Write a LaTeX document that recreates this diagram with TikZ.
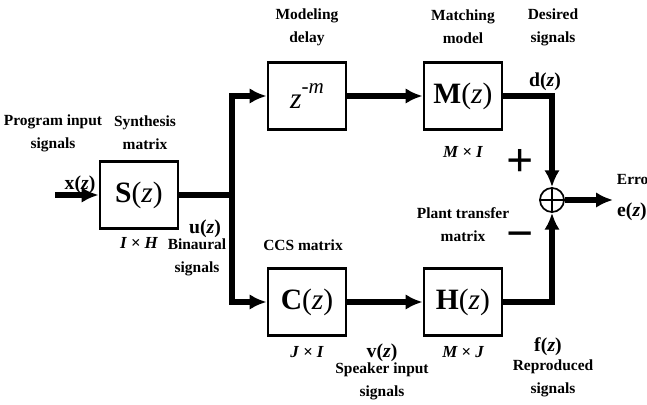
\documentclass[tikz,border=0pt]{standalone}
\usepackage{fontspec}
\setmainfont{Liberation Serif}
\usetikzlibrary{arrows.meta}

\newcommand{\sigz}[1]{\textbf{#1}(\textit{z})}

\begin{document}
\begin{tikzpicture}[x=0.025cm, y=-0.025cm, >={Latex[length=12pt,width=11pt]},
    block/.style={draw, line width=2pt, minimum width=1.95cm, minimum height=1.68cm, font=\fontsize{21}{23}\selectfont},
    sum/.style={circle, draw, line width=1.2pt, minimum size=0.6cm, inner sep=0pt},
    bus/.style={line width=4.3pt},
    lbl/.style={align=center, font=\bfseries\fontsize{11}{16.5}\selectfont},
    sgn/.style={font=\bfseries\fontsize{14}{16}\selectfont},
    dims/.style={font=\bfseries\itshape\fontsize{12}{14}\selectfont}]
    \useasboundingbox (0,0) rectangle (647,405);

    \node[block] (S) at (139,195) {\sigz{S}};
    \node[block] (D) at (307,96) {\textit{z}\raisebox{1.1ex}{\fontsize{15}{15}\selectfont\textit{-m}}};
    \node[block] (M) at (463,96) {\sigz{M}};
    \node[block] (C) at (307,302) {\sigz{C}};
    \node[block] (H) at (463,302) {\sigz{H}};
    \node[sum] (E) at (552,200) {};
    \draw[line width=1.2pt] (E.north) -- (E.south) (E.west) -- (E.east);

    \coordinate (x) at (55,195);
    \coordinate (u) at (232,195);
    \coordinate (e) at (613,200);

    \draw[bus,->] (x) -- (S);
    \draw[bus] (S) -- (u);
    \draw[bus,->] (u) |- (D);
    \draw[bus,->] (u) |- (C);
    \draw[bus,->] (D) -- (M);
    \draw[bus,->] (C) -- (H);
    \draw[bus,->] (M) -| (E);
    \draw[bus,->] (H) -| (E);
    \draw[bus,->] (E) -- (e);

    \node[font=\bfseries\fontsize{34}{34}\selectfont] (plus) at (520,163) {+};
    \node[font=\bfseries\fontsize{34}{34}\selectfont] (minus) at (520,241) {−};

    \node[lbl] (lx) at (53,133) {Program input\\signals};
    \node[lbl] (ls) at (145,133) {Synthesis\\matrix};
    \node[lbl] (ld) at (307,27) {Modeling\\delay};
    \node[lbl] (lm) at (463,27) {Matching\\model};
    \node[lbl] (lo) at (553,27) {Desired\\signals};
    \node[lbl] (lc) at (303,245) {CCS matrix};
    \node[lbl] (lh) at (463,225) {Plant transfer\\matrix};
    \node[lbl] (lu) at (197,257) {Binaural\\signals};
    \node[lbl] (lv) at (382,381) {Speaker input\\signals};
    \node[lbl] (lf) at (553,378) {Reproduced\\signals};
    \node[lbl, anchor=west] (le) at (612,180) {Error};

    \node[sgn] (sx) at (80,185) {\sigz{x}};
    \node[sgn] (su) at (205,229) {\sigz{u}};
    \node[sgn] (sd) at (545,82) {\sigz{d}};
    \node[sgn] (sv) at (382,353) {\sigz{v}};
    \node[sgn] (sf) at (548,347) {\sigz{f}};
    \node[sgn] (se) at (632,212) {\sigz{e}};

    \node[dims] (dsh) at (139,243) {I × H};
    \node[dims] (dmi) at (463,152) {M × I};
    \node[dims] (dci) at (307,352) {J × I};
    \node[dims] (dhj) at (463,352) {M × J};
\end{tikzpicture}
\end{document}
